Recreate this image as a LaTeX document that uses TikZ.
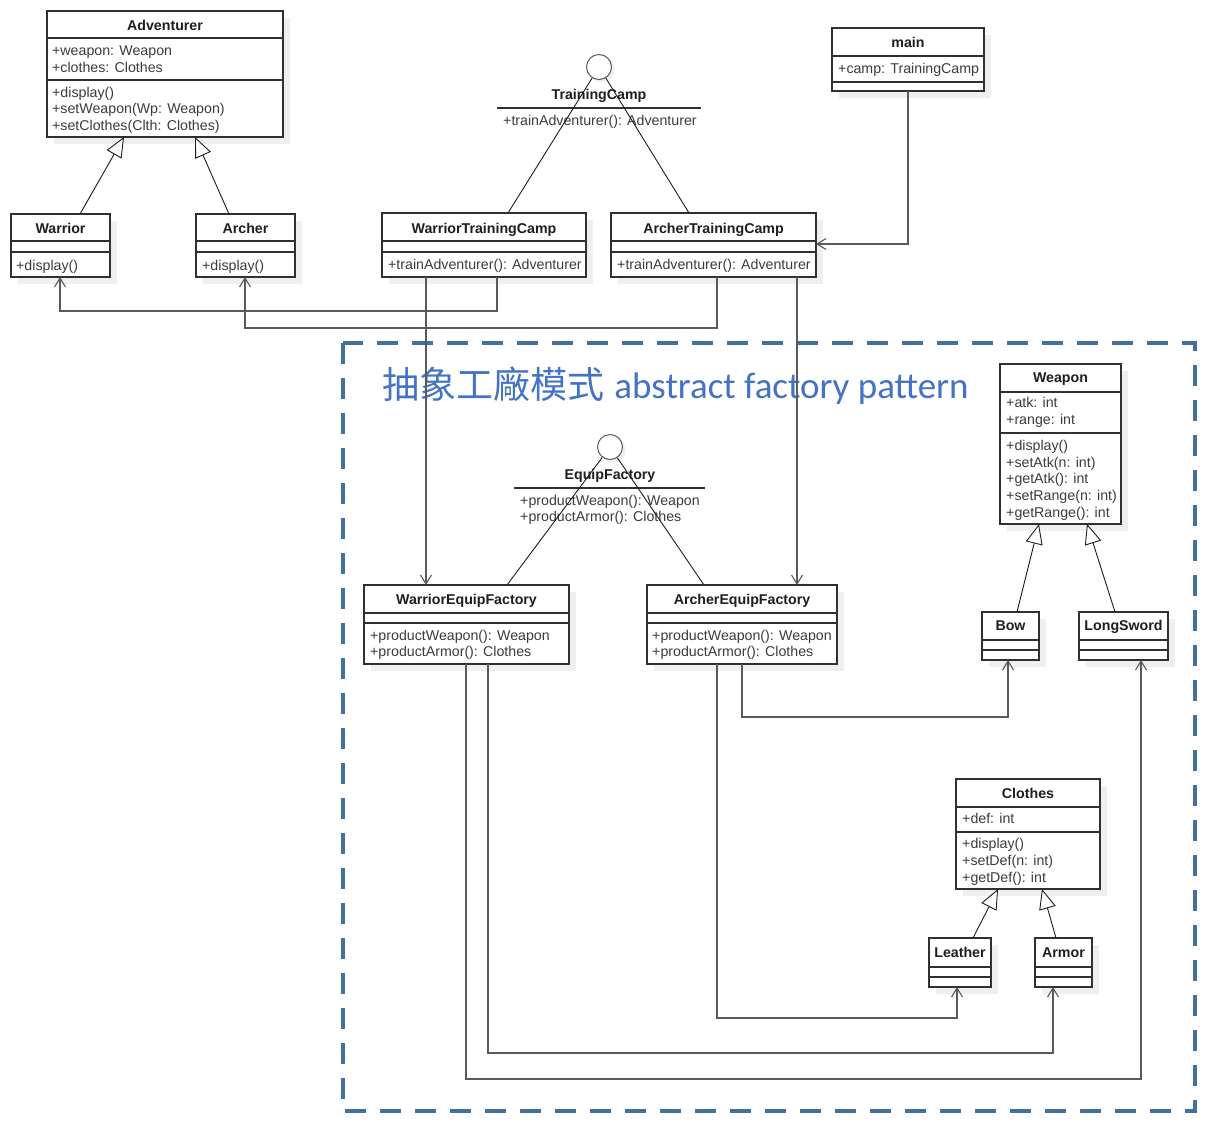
\documentclass[tikz,border=0pt]{standalone}
\usepackage{fontspec}
\setmainfont{Liberation Sans}
\newfontfamily\titlefont{Carlito}
\newfontfamily\cjkfont{Noto Sans CJK TC}
\usetikzlibrary{arrows.meta,calc}
\definecolor{boxc}{HTML}{303030}
\definecolor{linec}{HTML}{5A5A5A}
\definecolor{memc}{HTML}{3C3C3C}
\definecolor{ttlc}{HTML}{1E1E1E}
\definecolor{shadowc}{HTML}{EFEFEF}
\definecolor{dashc}{HTML}{41719C}
\definecolor{bigc}{HTML}{4472C4}
\tikzset{
  classbox/.style={draw=boxc, line width=1.3pt, fill=white, inner sep=0pt, outer sep=0pt},
  divline/.style={draw=boxc, line width=1.2pt},
  mem/.style={anchor=base west, inner sep=0pt, text=memc, font=\fontsize{14.2}{17}\selectfont},
  ttl/.style={anchor=base, inner sep=0pt, text=ttlc, font=\fontsize{14.2}{17}\selectfont\bfseries},
  dep/.style={draw=linec, line width=1.4pt, -{Straight Barb[length=9pt,width=11pt,line width=1.1pt]}},
  gen/.style={draw=ttlc, line width=0.9pt, -{Triangle[open,fill=white,length=20pt,width=17pt,line width=0.9pt]}},
  real/.style={draw=ttlc, line width=0.9pt},
  iface/.style={circle, draw=linec, line width=1pt, fill=white, minimum size=25pt, inner sep=0pt},
  dashbox/.style={draw=dashc, line width=4pt, dash pattern=on 21pt off 14pt},
}
\newcommand{\umlbox}[5]{%
  \fill[shadowc] ({#2+7},{#3+7}) rectangle ({#4+7},{#5+7});
  \node[classbox, anchor=north west, minimum width={(#4-#2)*1pt}, minimum height={(#5-#3)*1pt}] (#1) at (#2,#3) {};}
\newcommand{\udiv}[3]{\draw[divline] (#1,#3) -- (#2,#3);}
\begin{document}
\begin{tikzpicture}[x=1pt,y=-1pt]
\useasboundingbox[fill=white] (0,0) rectangle (1212,1125);

% dashed frame
\draw[dashbox] (343,343) rectangle (1195,1111);
\node[anchor=base west, inner sep=0pt, text=bigc, font=\fontsize{37}{40}\selectfont] (bigtitle) at (382,398) {{\cjkfont 抽象工廠模式} {\titlefont abstract factory pattern}};

% classes
\umlbox{adv}{47}{11}{283}{137}
\udiv{47}{283}{38}\udiv{47}{283}{80}
\node[ttl] (advt) at (165,30) {Adventurer};
\node[mem] (adva1) at (52,55) {+weapon: Weapon};
\node[mem] (adva2) at (52,72) {+clothes: Clothes};
\node[mem] (advm1) at (52,97) {+display()};
\node[mem] (advm2) at (52,113) {+setWeapon(Wp: Weapon)};
\node[mem] (advm3) at (52,130) {+setClothes(Clth: Clothes)};

\umlbox{war}{11}{214}{110}{277}
\udiv{11}{110}{241}\udiv{11}{110}{252}
\node[ttl] (wart) at (60.5,233) {Warrior};
\node[mem] (warm) at (16,270) {+display()};

\umlbox{arc}{196}{214}{295}{277}
\udiv{196}{295}{241}\udiv{196}{295}{252}
\node[ttl] (arct) at (245.5,233) {Archer};
\node[mem] (arcm) at (202,270) {+display()};

\umlbox{wtc}{382}{213}{586}{277}
\udiv{382}{586}{241}\udiv{382}{586}{252}
\node[ttl] (wtct) at (484,233) {WarriorTrainingCamp};
\node[mem] (wtcm) at (388,269) {+trainAdventurer(): Adventurer};

\umlbox{atc}{611}{213}{816}{277}
\udiv{611}{816}{241}\udiv{611}{816}{252}
\node[ttl] (atct) at (713.5,233) {ArcherTrainingCamp};
\node[mem] (atcm) at (617,269) {+trainAdventurer(): Adventurer};

\umlbox{mainc}{832}{28}{984}{91}
\udiv{832}{984}{56}\udiv{832}{984}{82}
\node[ttl] (maint) at (908,47) {main};
\node[mem] (maina) at (838,73) {+camp: TrainingCamp};

\umlbox{wef}{364}{585}{569}{664}
\udiv{364}{569}{613}\udiv{364}{569}{623}
\node[ttl] (weft) at (466.5,604) {WarriorEquipFactory};
\node[mem] (wefm1) at (370,640) {+productWeapon(): Weapon};
\node[mem] (wefm2) at (370,656) {+productArmor(): Clothes};

\umlbox{aef}{647}{585}{837}{664}
\udiv{647}{837}{613}\udiv{647}{837}{623}
\node[ttl] (aeft) at (742,604) {ArcherEquipFactory};
\node[mem] (aefm1) at (652,640) {+productWeapon(): Weapon};
\node[mem] (aefm2) at (652,656) {+productArmor(): Clothes};

\umlbox{wpn}{1000}{364}{1121}{524}
\udiv{1000}{1121}{392}\udiv{1000}{1121}{433}
\node[ttl] (wpnt) at (1060.5,382) {Weapon};
\node[mem] (wpna1) at (1006,407) {+atk: int};
\node[mem] (wpna2) at (1006,424) {+range: int};
\node[mem] (wpnm1) at (1006,450) {+display()};
\node[mem] (wpnm2) at (1006,467) {+setAtk(n: int)};
\node[mem] (wpnm3) at (1006,483) {+getAtk(): int};
\node[mem] (wpnm4) at (1006,500) {+setRange(n: int)};
\node[mem] (wpnm5) at (1006,517) {+getRange(): int};

\umlbox{bow}{982}{612}{1039}{660}
\udiv{982}{1039}{640}\udiv{982}{1039}{650}
\node[ttl] (bowt) at (1010.5,630) {Bow};

\umlbox{lsw}{1079}{612}{1168}{660}
\udiv{1079}{1168}{640}\udiv{1079}{1168}{650}
\node[ttl] (lswt) at (1123.5,630) {LongSword};

\umlbox{clo}{956}{779}{1100}{889}
\udiv{956}{1100}{807}\udiv{956}{1100}{832}
\node[ttl] (clot) at (1028,798) {Clothes};
\node[mem] (cloa) at (962,823) {+def: int};
\node[mem] (clom1) at (962,848) {+display()};
\node[mem] (clom2) at (962,865) {+setDef(n: int)};
\node[mem] (clom3) at (962,882) {+getDef(): int};

\umlbox{lea}{929}{938}{991}{987}
\udiv{929}{991}{967}\udiv{929}{991}{977}
\node[ttl] (leat) at (960,957) {Leather};

\umlbox{arm}{1035}{938}{1092}{987}
\udiv{1035}{1092}{967}\udiv{1035}{1092}{977}
\node[ttl] (armt) at (1063.5,957) {Armor};

% interfaces
\fill[shadowc] (602,70) circle (12.5);
\node[iface] (tc) at (599,67) {};
\node[ttl] (tct) at (599,99) {TrainingCamp};
\draw[divline] (497,108) -- (701,108);
\node[mem] (tcm) at (503,125) {+trainAdventurer(): Adventurer};

\fill[shadowc] (613,450) circle (12.5);
\node[iface] (ef) at (610,447) {};
\node[ttl] (eft) at (610,479) {EquipFactory};
\draw[divline] (514,488) -- (705,488);
\node[mem] (efm1) at (520,505) {+productWeapon(): Weapon};
\node[mem] (efm2) at (520,521) {+productArmor(): Clothes};

% generalizations
\draw[gen] (80,0 |- war.north) -- (124,0 |- adv.south);
\draw[gen] (229,0 |- arc.north) -- (195,0 |- adv.south);
\draw[gen] (1017,0 |- bow.north) -- (1039,0 |- wpn.south);
\draw[gen] (1115,0 |- lsw.north) -- (1087,0 |- wpn.south);
\draw[gen] (973,0 |- lea.north) -- (998,0 |- clo.south);
\draw[gen] (1056,0 |- arm.north) -- (1042,0 |- clo.south);

% realizations
\draw[real] (508,0 |- wtc.north) -- (tc);
\draw[real] (689,0 |- atc.north) -- (tc);
\draw[real] (507,0 |- wef.north) -- (ef);
\draw[real] (704,0 |- aef.north) -- (ef);

% dependencies
\draw[dep] (908,0 |- mainc.south) |- (atc.east |- 0,244);
\draw[dep] (497,0 |- wtc.south) -- (497,311) -| (60,0 |- war.south);
\draw[dep] (717,0 |- atc.south) -- (717,328) -| (245,0 |- arc.south);
\draw[dep] (426,0 |- wtc.south) -- (426,0 |- wef.north);
\draw[dep] (797,0 |- atc.south) -- (797,0 |- aef.north);
\draw[dep] (466,0 |- wef.south) -- (466,1079) -| (1141,0 |- lsw.south);
\draw[dep] (488,0 |- wef.south) -- (488,1053) -| (1053,0 |- arm.south);
\draw[dep] (717,0 |- aef.south) -- (717,1018) -| (957,0 |- lea.south);
\draw[dep] (742,0 |- aef.south) -- (742,717) -| (1008,0 |- bow.south);
\end{tikzpicture}
\end{document}
